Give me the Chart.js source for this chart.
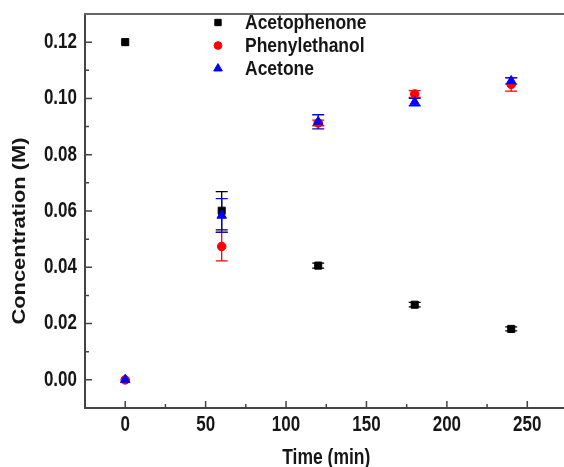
<!DOCTYPE html>
<html>
<head>
<meta charset="utf-8">
<script src="https://cdn.jsdelivr.net/npm/chart.js@4/dist/chart.umd.min.js"></script>
<style>
  html, body { margin: 0; padding: 0; background: #fff; overflow: hidden; }
  canvas { display: block; }
</style>
</head>
<body>
<canvas id="chart" width="574" height="467"></canvas>
<script>
// Sampling times (min)
const timeMin = [0, 60, 120, 180, 240];

// Concentrations (M), with error bar half-widths
const acetophenone = [0.120, 0.0601, 0.0406, 0.0267, 0.0181];
const acetophenoneErr = [0, 0.0068, 0.0009, 0.0008, 0.0007];
const phenylethanol = [0.000, 0.0474, 0.0913, 0.1016, 0.1050];
const phenylethanolErr = [0, 0.0051, 0.0010, 0.0012, 0.0024];
const acetone = [0.000, 0.0584, 0.0917, 0.0987, 0.1062];
const acetoneErr = [0, 0.0060, 0.0025, 0.0013, 0.0011];

// Axis ticks
const xTickValues = [0, 50, 100, 150, 200, 250];
const xMinorValues = [-25, 25, 75, 125, 175, 225, 275];
const yTickValues = [0, 0.02, 0.04, 0.06, 0.08, 0.10, 0.12];
const yMinorValues = [-0.01, 0.01, 0.03, 0.05, 0.07, 0.09, 0.11, 0.13];

const FONT = "'Liberation Sans', Arial, sans-serif";
const TEXT = '#161616';
const AXIS = '#444';
const STRETCH = 1.25; // the source figure's lettering is a bit tall

const toPoints = vals => vals.map((v, i) => ({ x: timeMin[i], y: v }));

function tallText(ctx, str, x, y, sy) {
    ctx.save();
    ctx.translate(x, y);
    ctx.scale(1, sy);
    ctx.fillText(str, 0, 0);
    ctx.restore();
}

// error bars, drawn under the markers
const errorBars = {
    id: 'errorBars',
    beforeDatasetsDraw(chart) {
        const { ctx, scales: { x, y } } = chart;
        ctx.save();
        chart.data.datasets.forEach(ds => {
            ctx.strokeStyle = ds.borderColor;
            ctx.lineWidth = 1.3;
            ds.errors.forEach((e, j) => {
                if (!e) return;
                const px = x.getPixelForValue(ds.data[j].x);
                const top = y.getPixelForValue(ds.data[j].y + e);
                const bot = y.getPixelForValue(ds.data[j].y - e);
                ctx.beginPath();
                ctx.moveTo(px, top); ctx.lineTo(px, bot);
                ctx.moveTo(px - 6, top); ctx.lineTo(px + 6, top);
                ctx.moveTo(px - 6, bot); ctx.lineTo(px + 6, bot);
                ctx.stroke();
            });
        });
        ctx.restore();
    }
};

// inward ticks, tick labels, top frame line, axis titles and legend
const frame = {
    id: 'frame',
    afterDraw(chart) {
        const { ctx, chartArea: a, scales: { x, y } } = chart;
        ctx.save();
        ctx.strokeStyle = AXIS;
        ctx.lineWidth = 1.5;
        ctx.beginPath();
        xTickValues.forEach(v => {
            const px = x.getPixelForValue(v);
            ctx.moveTo(px, a.bottom); ctx.lineTo(px, a.bottom - 7);
        });
        xMinorValues.forEach(v => {
            const px = x.getPixelForValue(v);
            ctx.moveTo(px, a.bottom); ctx.lineTo(px, a.bottom - 4);
        });
        yTickValues.forEach(v => {
            const py = y.getPixelForValue(v);
            ctx.moveTo(a.left, py); ctx.lineTo(a.left + 7, py);
        });
        yMinorValues.forEach(v => {
            const py = y.getPixelForValue(v);
            ctx.moveTo(a.left, py); ctx.lineTo(a.left + 4, py);
        });
        ctx.stroke();

        // top frame
        ctx.strokeStyle = '#666';
        ctx.lineWidth = 2;
        ctx.beginPath();
        ctx.moveTo(a.left - 1, a.top); ctx.lineTo(a.right, a.top);
        ctx.stroke();

        ctx.fillStyle = TEXT;
        ctx.font = 'bold 17px ' + FONT;
        ctx.textBaseline = 'middle';

        // tick labels
        ctx.textAlign = 'center';
        xTickValues.forEach(v => tallText(ctx, String(v), x.getPixelForValue(v), 425, STRETCH));
        ctx.textAlign = 'right';
        yTickValues.forEach(v => tallText(ctx, v.toFixed(2), a.left - 8, y.getPixelForValue(v), STRETCH));

        // axis titles
        ctx.font = 'bold 17.5px ' + FONT;
        ctx.textAlign = 'center';
        tallText(ctx, 'Time (min)', (a.left + a.right) / 2, 458, STRETCH);
        ctx.save();
        ctx.translate(20, 231);
        ctx.rotate(-Math.PI / 2);
        ctx.scale(STRETCH, 1);
        ctx.fillText('Concentration (M)', 0, 0);
        ctx.restore();
        ctx.restore();

        // legend
        ctx.save();
        ctx.font = 'bold 17.5px ' + FONT;
        ctx.textAlign = 'left';
        ctx.textBaseline = 'middle';
        chart.data.datasets.forEach((ds, i) => {
            const ly = 22.5 + i * 23;
            ctx.fillStyle = ds.backgroundColor;
            ctx.strokeStyle = ds.borderColor;
            ctx.lineWidth = 1;
            Chart.helpers.drawPoint(ctx, { pointStyle: ds.pointStyle, radius: ds.pointRadius * 0.9, rotation: 0, borderWidth: 1 }, 218, ly);
            ctx.fillStyle = TEXT;
            tallText(ctx, ds.label, 245, ly + 1, 1.2);
        });
        ctx.restore();
    }
};

const ctx = document.getElementById('chart').getContext('2d');
new Chart(ctx, {
    type: 'scatter',
    data: {
        datasets: [
            {
                label: 'Acetophenone',
                data: toPoints(acetophenone),
                errors: acetophenoneErr,
                pointStyle: 'rect',
                pointRadius: 5,
                backgroundColor: '#000',
                borderColor: '#000',
                borderWidth: 1,
                order: 2
            },
            {
                label: 'Phenylethanol',
                data: toPoints(phenylethanol),
                errors: phenylethanolErr,
                pointStyle: 'circle',
                pointRadius: 4.3,
                backgroundColor: '#ff0000',
                borderColor: '#ff0000',
                borderWidth: 1,
                order: 1
            },
            {
                label: 'Acetone',
                data: toPoints(acetone),
                errors: acetoneErr,
                pointStyle: 'triangle',
                pointRadius: 5.5,
                backgroundColor: '#0000ff',
                borderColor: '#0000ff',
                borderWidth: 1,
                order: 0
            }
        ]
    },
    options: {
        responsive: false,
        animation: false,
        layout: { padding: { top: 14, left: 0, right: 0, bottom: 0 } },
        plugins: {
            legend: { display: false },
            tooltip: { enabled: false }
        },
        scales: {
            x: {
                type: 'linear',
                min: -25,
                max: 275,
                afterBuildTicks: s => { s.ticks = xTickValues.map(v => ({ value: v })); },
                afterFit: s => { s.height = 59; },
                ticks: { display: false },
                grid: { drawOnChartArea: false, drawTicks: false },
                border: { color: AXIS, width: 2 }
            },
            y: {
                min: -0.01,
                max: 0.13,
                afterBuildTicks: s => { s.ticks = yTickValues.map(v => ({ value: v })); },
                afterFit: s => { s.width = 85; },
                ticks: { display: false },
                grid: { drawOnChartArea: false, drawTicks: false },
                border: { color: AXIS, width: 2 }
            }
        }
    },
    plugins: [errorBars, frame]
});
</script>
</body>
</html>
